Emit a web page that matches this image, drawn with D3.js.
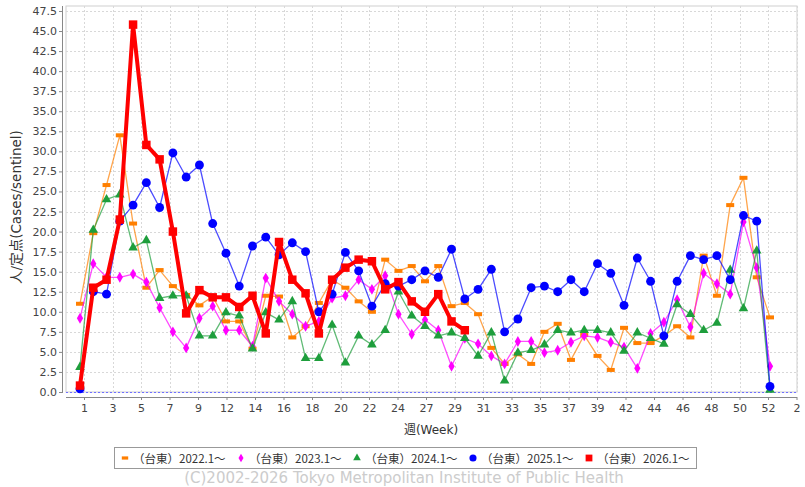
<!DOCTYPE html>
<html><head><meta charset="utf-8">
<script src="https://cdn.jsdelivr.net/npm/d3@7/dist/d3.min.js"></script>
<style>
body{margin:0;background:#fff;}
svg{display:block;}
text{font-family:"DejaVu Sans","Noto Sans CJK JP",sans-serif;}
</style></head>
<body><svg id="c" width="805" height="487"></svg>
<script>
const xTickLabels = ["1","3","5","7","9","12","14","16","18","20","22","24","27","29","31","33","35","37","39","42","44","46","48","50","52","2"];
const yTickValues = [0,2.5,5,7.5,10,12.5,15,17.5,20,22.5,25,27.5,30,32.5,35,37.5,40,42.5,45,47.5];
const seriesNames = ["（台東）2022.1～","（台東）2023.1～","（台東）2024.1～","（台東）2025.1～","（台東）2026.1～"];
const s2022 = [11.0,19.8,25.8,32.0,21.0,13.0,15.2,13.2,12.1,10.8,11.9,8.8,8.8,5.4,12.0,11.9,6.8,8.2,11.1,14.0,13.0,11.3,10.0,16.5,15.1,15.7,13.8,15.7,10.7,11.1,9.7,5.5,3.5,4.7,3.5,7.5,8.5,4.0,7.1,4.5,2.75,8.0,6.1,6.1,7.0,8.2,6.8,17.0,12.0,23.3,26.7,14.3,9.3];
const s2023 = [9.2,16.0,14.3,14.3,14.7,13.7,10.5,7.5,5.5,9.2,10.7,7.7,7.7,5.7,14.2,11.3,9.7,8.2,8.8,11.7,12.0,14.0,12.8,14.5,9.7,7.2,9.0,7.7,3.2,6.7,6.0,4.5,3.5,6.3,6.3,4.9,5.2,6.2,7.0,6.8,6.2,5.6,2.95,7.3,8.7,11.5,8.1,14.8,13.5,12.2,21.2,15.5,3.2];
const s2024 = [3.1,20.2,24.0,24.6,18.0,18.9,11.7,12.0,12.0,7.0,7.0,9.9,9.5,5.4,9.9,9.0,11.3,4.2,4.2,8.35,3.65,7.0,5.9,7.7,12.5,9.5,8.2,7.0,7.4,6.7,4.5,7.4,1.4,4.9,5.2,5.9,7.7,7.4,7.7,7.7,7.4,5.1,7.4,6.7,6.0,10.9,9.7,7.7,8.6,15.2,10.4,17.6,0.25];
const s2025 = [0.4,12.5,12.2,21.3,23.3,26.1,23.0,29.8,26.8,28.3,21.0,17.3,13.2,18.2,19.3,17.1,18.6,17.5,10.0,12.2,17.4,15.1,10.7,13.5,13.2,14.0,15.1,14.3,17.8,11.6,12.8,15.3,7.5,9.1,13.0,13.2,12.5,14.0,12.5,16.0,14.8,10.8,16.7,13.8,7.0,13.8,17.0,16.5,17.0,14.0,22.0,21.3,0.7];
const s2026 = [0.8,13.0,14.0,21.5,45.8,30.8,29.0,20.0,9.8,12.7,11.8,11.8,10.6,12.0,7.3,18.7,14.0,12.3,7.3,14.0,15.5,16.5,16.3,12.8,13.7,11.3,10.0,12.2,8.8,7.7];

const svg = d3.select("#c");
const L = 66, R = 797, T = 6, B = 392;
const x = d3.scaleLinear().domain([0, 52]).range([80, 770]);
const xt = d3.scalePoint().domain(xTickLabels).range([84, 796.5]);
const y = d3.scaleLinear().domain([0, 48.12]).range([B, T]);

svg.append("rect").attr("x", L).attr("y", T).attr("width", R - L).attr("height", B - T)
  .attr("fill", "#fff").attr("stroke", "#cfcfcf").attr("stroke-width", 1);

const g = svg.append("g");
g.selectAll("line.h").data(yTickValues.filter(v => v > 0)).join("line")
  .attr("x1", L).attr("x2", R).attr("y1", d => Math.round(y(d)) + 0.5).attr("y2", d => Math.round(y(d)) + 0.5)
  .attr("stroke", "#d8d8d8").attr("stroke-dasharray", "2,2");
g.selectAll("line.v").data(xTickLabels).join("line")
  .attr("y1", T).attr("y2", B).attr("x1", d => Math.round(xt(d)) + 0.5).attr("x2", d => Math.round(xt(d)) + 0.5)
  .attr("stroke", "#d8d8d8").attr("stroke-dasharray", "2,2");
svg.append("line").attr("x1", L).attr("x2", R).attr("y1", y(0) + 0.5).attr("y2", y(0) + 0.5)
  .attr("stroke", "#7070ff").attr("stroke-dasharray", "2,2");

const ya = svg.append("g").attr("transform", "translate(62,0)")
  .call(d3.axisLeft(y).tickValues(yTickValues).tickFormat(d3.format(".1f")).tickSize(3).tickSizeOuter(0));
ya.select(".domain").attr("stroke", "#888").attr("d", `M0.5,${T}V${B + 1}`);
ya.selectAll(".tick line").attr("stroke", "#888");
ya.selectAll(".tick text").attr("fill", "#444").attr("font-size", "11px").attr("x", -5)
  .style("font-family", "DejaVu Sans");

const xa = svg.append("g").attr("transform", "translate(0,397)")
  .call(d3.axisBottom(xt).tickSize(3).tickSizeOuter(0));
xa.select(".domain").attr("stroke", "#888").attr("d", `M${L},0.5H${R}`);
xa.selectAll(".tick line").attr("stroke", "#888");
xa.selectAll(".tick text").attr("fill", "#444").attr("font-size", "11px").attr("y", 7)
  .style("font-family", "DejaVu Sans");

svg.append("text").attr("x", 431).attr("y", 434).attr("text-anchor", "middle")
  .attr("font-size", "12px").attr("fill", "#333").text("週(Week)");
svg.append("text").attr("transform", "translate(21,207) rotate(-90)").attr("text-anchor", "middle")
  .attr("font-size", "13.5px").attr("fill", "#333").text("人/定点(Cases/sentinel)");

const series = [
  {name: seriesNames[0], data: s2022, color: "#ff7f00", w: 1.3, shape: "rect"},
  {name: seriesNames[1], data: s2023, color: "#ff00ff", w: 1.3, shape: "diamond"},
  {name: seriesNames[2], data: s2024, color: "#1e9e3c", w: 1.3, shape: "triangle"},
  {name: seriesNames[3], data: s2025, color: "#0000ff", w: 1.3, shape: "circle"},
  {name: seriesNames[4], data: s2026, color: "#ff0000", w: 4, shape: "square"}
];
const line = d3.line().x((d, i) => x(i)).y(d => y(d));

function drawMarker(sel, shape, color, scale) {
  if (shape === "rect") {
    sel.append("rect").attr("x", -4 * scale).attr("y", -2 * scale).attr("width", 8 * scale).attr("height", 4 * scale).attr("fill", color);
  } else {
    const t = {diamond: d3.symbolDiamond, triangle: d3.symbolTriangle, circle: d3.symbolCircle, square: d3.symbolSquare}[shape];
    const size = {diamond: 34, triangle: 40, circle: 62, square: 72}[shape] * scale * scale;
    sel.append("path").attr("d", d3.symbol().type(t).size(size)()).attr("fill", color);
  }
}

series.forEach(s => {
  const gg = svg.append("g");
  gg.append("path").datum(s.data).attr("d", line).attr("fill", "none")
    .attr("stroke", s.color).attr("stroke-width", s.w)
    .attr("stroke-opacity", s.w > 2 ? 1 : 0.7).attr("stroke-linejoin", "round");
  gg.selectAll("g.m").data(s.data).join("g").attr("transform", (d, i) => `translate(${x(i)},${y(d)})`)
    .each(function () { drawMarker(d3.select(this), s.shape, s.color, 1); });
});

const lg = svg.append("g");
lg.append("rect").attr("x", 114.5).attr("y", 447.5).attr("width", 582).attr("height", 21)
  .attr("fill", "#fff").attr("stroke", "#999");
const lx = d3.scalePoint().domain(seriesNames).range([125, 589]);
series.forEach(s => {
  const it = lg.append("g").attr("transform", `translate(${lx(s.name)},458)`);
  drawMarker(it, s.shape, s.color, 0.8);
  it.append("text").attr("x", 8).attr("y", 4.5).attr("font-size", "11.5px").attr("fill", "#333")
    .style("font-family", "Noto Sans CJK JP").text(s.name);
});

svg.append("text").attr("x", 404).attr("y", 483).attr("text-anchor", "middle")
  .attr("font-size", "15px").attr("fill", "#cccccc").text("(C)2002-2026 Tokyo Metropolitan Institute of Public Health");
</script></body></html>
